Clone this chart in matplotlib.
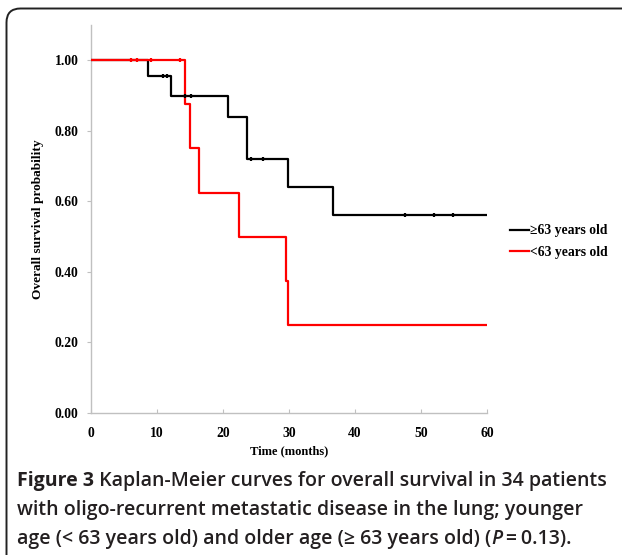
import numpy as np
import matplotlib
matplotlib.use("Agg")
import matplotlib.pyplot as plt
from matplotlib.patches import FancyBboxPatch
from matplotlib.lines import Line2D
from matplotlib.transforms import IdentityTransform

# survival data (months, probability)
old_times = [0, 8.6, 12.1, 20.7, 23.6, 23.7, 29.8, 36.6, 60]
old_surv = [1.0, 0.955, 0.90, 0.838, 0.779, 0.72, 0.64, 0.56, 0.56]
old_censor = [10.9, 11.5, 14.2, 15.2, 24.3, 26.1, 47.6, 51.9, 54.9]

young_times = [0, 14.3, 15.0, 16.4, 22.4, 29.6, 29.8, 60]
young_surv = [1.0, 0.875, 0.75, 0.625, 0.50, 0.375, 0.25, 0.25]
young_censor = [6.1, 7.0, 9.1, 13.5]

labels = ["\u226563 years old", "<63 years old"]
colors = ["#000000", "#ff0000"]
x_ticks = [0, 10, 20, 30, 40, 50, 60]
y_ticks = [0.0, 0.2, 0.4, 0.6, 0.8, 1.0]

W, H = 622, 555
fig = plt.figure(figsize=(W / 100, H / 100), dpi=100)
ax = fig.add_axes([91 / W, 1 - 413 / H, (487 - 91) / W, (413 - 25) / H])

serif = ["Liberation Serif", "DejaVu Serif"]


def surv_at(times, surv, t):
    # value of the step curve at time t
    i = np.searchsorted(times, t, side="right") - 1
    return surv[i]


for times, surv, cens, c in [(old_times, old_surv, old_censor, colors[0]),
                             (young_times, young_surv, young_censor, colors[1])]:
    ax.step(times, surv, where="post", color=c, lw=1.6, zorder=3)
    cy = [surv_at(times, surv, t) for t in cens]
    ax.plot(cens, cy, ls="none", marker="|", ms=3, mew=1.6, color=c, zorder=4)

ax.set_xlim(0, 60)
ax.set_ylim(0, 1.1)
ax.set_xticks(x_ticks)
ax.set_yticks(y_ticks)
ax.set_yticklabels([f"{v:.2f}" for v in y_ticks])
for s in ["top", "right"]:
    ax.spines[s].set_visible(False)
for s in ["left", "bottom"]:
    ax.spines[s].set_color("#c0c0c0")
    ax.spines[s].set_linewidth(1.0)
ax.tick_params(axis="y", direction="out", length=3, color="#c0c0c0", pad=6)
ax.tick_params(axis="x", direction="in", length=3, color="#c0c0c0", pad=10)
for lab in ax.get_xticklabels() + ax.get_yticklabels():
    lab.set_fontfamily(serif)
    lab.set_fontweight("bold")
    lab.set_fontsize(9.8)

ax.set_xlabel("Time (months)", family=serif, weight="bold", fontsize=9, labelpad=4)
ax.set_ylabel("Overall survival probability", family=serif, weight="bold",
              fontsize=9.6, labelpad=8)

handles = [Line2D([], [], color=c, lw=1.6) for c in colors]
fig.legend(handles, labels, loc="center left", bbox_to_anchor=(510 / W, 1 - 241.5 / H),
           frameon=False, handlelength=1.4, handletextpad=0.1, labelspacing=0.6,
           prop={"family": serif, "weight": "bold", "size": 9.8}, borderaxespad=0,
           borderpad=0)

# rounded frame around the figure
frame = FancyBboxPatch((6.5, -30), 700, H - 8.5 + 30,
                       boxstyle="round,pad=0,rounding_size=14",
                       transform=IdentityTransform(), fill=False,
                       ec="#222222", lw=1.4)
fig.patches.append(frame)

# caption with mixed styles
sans = ["Open Sans", "DejaVu Sans"]
cap_size = 14.0
lines = [
    [("Figure 3", "bold", "normal"),
     (" Kaplan-Meier curves for overall survival in 34 patients", "semibold", "normal")],
    [("with oligo-recurrent metastatic disease in the lung; younger", "semibold", "normal")],
    [("age (< 63 years old) and older age (\u2265 63 years old) (", "semibold", "normal"),
     ("P", "semibold", "italic"),
     ("\u2009=\u20090.13).", "semibold", "normal")],
]
line_y = [481, 510, 539]
fig.canvas.draw()
renderer = fig.canvas.get_renderer()
for parts, yy in zip(lines, line_y):
    x = 17
    for txt, wt, st in parts:
        t = fig.text(x / W, 1 - yy / H, txt, family=sans, weight=wt, style=st,
                     fontsize=cap_size, va="center", ha="left", color="#231f20")
        bb = t.get_window_extent(renderer)
        x += bb.width

fig.savefig("out.png", dpi=100)
